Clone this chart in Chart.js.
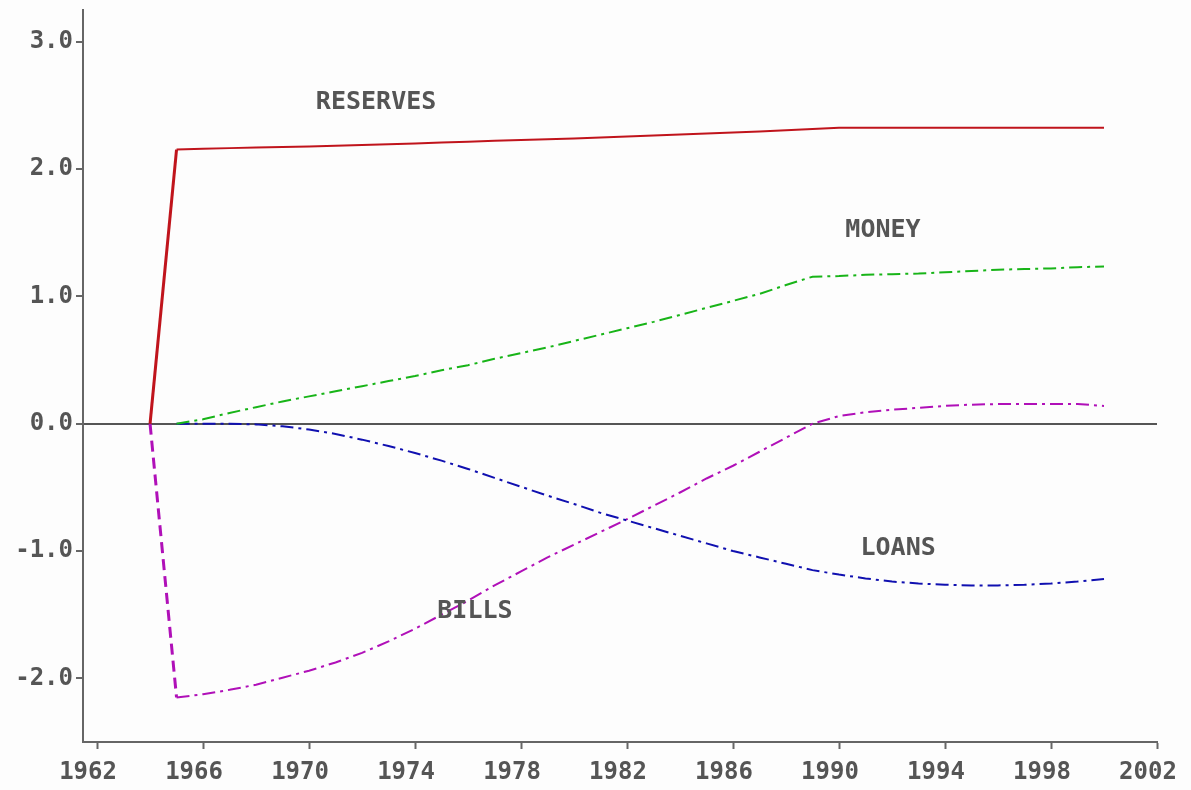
<!DOCTYPE html>
<html>
<head>
<meta charset="utf-8">
<script src="https://cdn.jsdelivr.net/npm/chart.js@4"></script>
<style>
  html, body { margin: 0; padding: 0; background: #fdfdfd; }
  #wrap { width: 1191px; height: 790px; }
</style>
</head>
<body>
<div id="wrap"><canvas id="chart" width="1191" height="790"></canvas></div>
<script>
const years = [1964, 1965, 1966, 1967, 1968, 1969, 1970, 1971, 1972, 1973, 1974, 1975,
  1976, 1977, 1978, 1979, 1980, 1981, 1982, 1983, 1984, 1985, 1986, 1987, 1988, 1989,
  1990, 1991, 1992, 1993, 1994, 1995, 1996, 1997, 1998, 1999, 2000];

const reserves = [0, 2.154, 2.16, 2.165, 2.17, 2.174, 2.178, 2.184, 2.19, 2.196, 2.202, 2.209,
  2.215, 2.222, 2.228, 2.234, 2.24, 2.248, 2.256, 2.264, 2.272, 2.28, 2.288, 2.296, 2.305, 2.315,
  2.325, 2.325, 2.325, 2.325, 2.325, 2.325, 2.325, 2.325, 2.325, 2.325, 2.325];

const money = [null, 0, 0.035, 0.085, 0.13, 0.175, 0.215, 0.255, 0.295, 0.335, 0.375, 0.42,
  0.46, 0.51, 0.555, 0.6, 0.65, 0.7, 0.75, 0.8, 0.855, 0.91, 0.965, 1.02, 1.09, 1.155,
  1.16, 1.17, 1.175, 1.18, 1.19, 1.2, 1.21, 1.215, 1.22, 1.23, 1.235];

const loans = [null, 0, 0, 0, -0.005, -0.02, -0.045, -0.08, -0.125, -0.175, -0.23, -0.29,
  -0.355, -0.425, -0.495, -0.565, -0.63, -0.7, -0.76, -0.82, -0.88, -0.94, -1.0, -1.05, -1.1, -1.15,
  -1.185, -1.215, -1.24, -1.255, -1.265, -1.27, -1.27, -1.265, -1.255, -1.24, -1.22];

const bills = [0, -2.15, -2.125, -2.09, -2.05, -1.995, -1.94, -1.875, -1.8, -1.71, -1.61, -1.5,
  -1.39, -1.27, -1.16, -1.05, -0.95, -0.85, -0.75, -0.645, -0.54, -0.43, -0.33, -0.22, -0.11, 0.0,
  0.06, 0.09, 0.11, 0.125, 0.14, 0.15, 0.155, 0.155, 0.155, 0.155, 0.14];

const xTicks = [1962, 1966, 1970, 1974, 1978, 1982, 1986, 1990, 1994, 1998, 2002];
const yTicks = [-2, -1, 0, 1, 2, 3];

const seriesLabels = [
  { text: "RESERVES", x: 1972.53, y: 2.524 },
  { text: "MONEY", x: 1991.66, y: 1.517 },
  { text: "LOANS", x: 1992.23, y: -0.983 },
  { text: "BILLS", x: 1976.26, y: -1.478 }
];

const axisColor = "#666";
const textColor = "#555";
const tickFont = { family: "DejaVu Sans Mono", size: 24, weight: "bold" };

function points(values) {
  return years.map((year, i) => ({ x: year, y: values[i] }));
}

const labelPlugin = {
  id: "seriesLabels",
  afterDatasetsDraw(chart) {
    const { ctx, scales } = chart;
    ctx.save();
    ctx.font = "bold 25px 'DejaVu Sans Mono'";
    ctx.fillStyle = textColor;
    ctx.textAlign = "center";
    ctx.textBaseline = "middle";
    seriesLabels.forEach((label) => {
      ctx.fillText(label.text, scales.x.getPixelForValue(label.x), scales.y.getPixelForValue(label.y));
    });
    ctx.restore();
  }
};

const dashDot = [13, 5, 3, 5];

new Chart(document.getElementById("chart"), {
  type: "line",
  data: {
    datasets: [
      {
        label: "RESERVES",
        data: points(reserves),
        borderColor: "#c0141c",
        borderWidth: 2,
        segment: { borderWidth: (c) => (c.p0DataIndex === 0 ? 3 : 2) }
      },
      {
        label: "MONEY",
        data: points(money),
        borderColor: "#18b418",
        borderWidth: 2,
        borderDash: dashDot
      },
      {
        label: "LOANS",
        data: points(loans),
        borderColor: "#1010b0",
        borderWidth: 2,
        borderDash: dashDot
      },
      {
        label: "BILLS",
        data: points(bills),
        borderColor: "#b010b8",
        borderWidth: 2,
        borderDash: dashDot,
        segment: {
          borderWidth: (c) => (c.p0DataIndex === 0 ? 3 : 2),
          borderDash: (c) => (c.p0DataIndex === 0 ? [11, 6] : dashDot)
        }
      }
    ]
  },
  options: {
    responsive: false,
    animation: false,
    spanGaps: false,
    elements: { point: { radius: 0 }, line: { tension: 0 } },
    layout: { padding: { top: 10, right: 34, left: 0, bottom: 0 } },
    plugins: { legend: { display: false }, tooltip: { enabled: false } },
    scales: {
      x: {
        type: "linear",
        min: 1961.47,
        max: 2002,
        afterBuildTicks: (scale) => { scale.ticks = xTicks.map((v) => ({ value: v })); },
        afterFit: (scale) => {
          scale.height = 48;
          scale.paddingLeft = 0;
          scale.paddingRight = 0;
        },
        grid: { drawOnChartArea: false, tickLength: 7, tickColor: axisColor, tickWidth: 2 },
        border: { display: true, color: axisColor, width: 2 },
        ticks: {
          color: textColor,
          font: tickFont,
          padding: 9,
          labelOffset: -9,
          maxRotation: 0,
          autoSkip: false,
          callback: (v) => String(v)
        }
      },
      y: {
        min: -2.5,
        max: 3.25,
        afterBuildTicks: (scale) => { scale.ticks = yTicks.map((v) => ({ value: v })); },
        afterFit: (scale) => {
          scale.width = 83;
          scale.paddingTop = 0;
          scale.paddingBottom = 0;
        },
        grid: {
          color: (c) => (c.tick && c.tick.value === 0 ? "#555" : "rgba(0,0,0,0)"),
          lineWidth: 2,
          tickLength: 7,
          tickColor: axisColor,
          tickWidth: 2
        },
        border: { display: true, color: axisColor, width: 2 },
        ticks: {
          color: textColor,
          font: tickFont,
          padding: 3,
          callback: (v) => v.toFixed(1)
        }
      }
    }
  },
  plugins: [labelPlugin]
});
</script>
</body>
</html>
